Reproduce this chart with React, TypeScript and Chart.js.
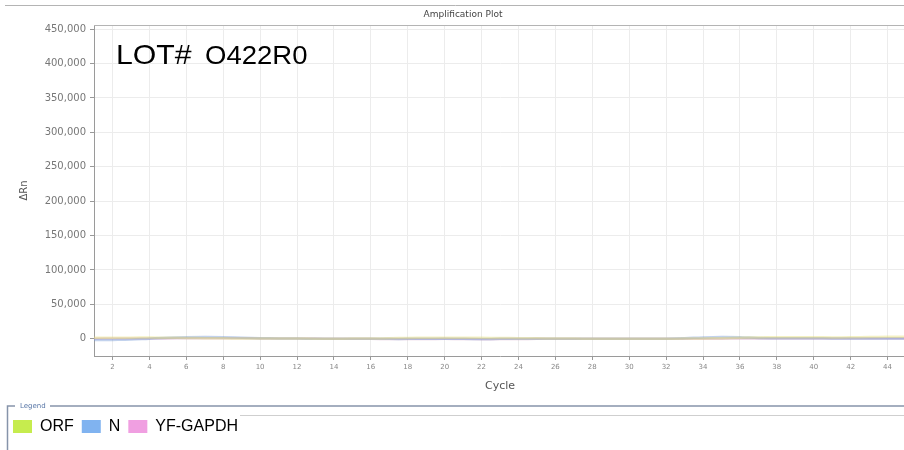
import React, { useEffect, useRef } from "react";
import { Chart, registerables } from "chart.js";

Chart.register(...registerables);

const chartTitle = "Amplification Plot";
const xAxisTitle = "Cycle";
const yAxisTitle = "ΔRn";
const legendTitle = "Legend";
const lotLabel = "LOT#";
const lotNumber = "O422R0";

const cycles = [
  1, 2, 3, 4, 5, 6, 7, 8, 9, 10, 11, 12, 13, 14, 15, 16, 17, 18, 19, 20, 21, 22, 23,
  24, 25, 26, 27, 28, 29, 30, 31, 32, 33, 34, 35, 36, 37, 38, 39, 40, 41, 42, 43, 44, 45,
];

const xTicks = [2, 4, 6, 8, 10, 12, 14, 16, 18, 20, 22, 24, 26, 28, 30, 32, 34, 36, 38, 40, 42, 44];
const yTicks = [0, 50000, 100000, 150000, 200000, 250000, 300000, 350000, 400000, 450000];

const seriesNames = ["ORF", "N", "YF-GAPDH"];

const orfValues = [
  1500, 1600, 1700, 1800, 1500, 1200, 900, 700, 500, 400, 300, 300, 200, 200, 300, 400, 800,
  1200, 1500, 1600, 1500, 1400, 1200, 900, 700, 500, 300, 200, 200, 100, 100, 200, 300, 500,
  900, 1500, 2000, 2300, 2400, 2200, 2000, 2200, 2600, 2900, 3000,
];
const nValues = [
  -1800, -1600, -1200, 200, 1500, 2200, 2500, 2300, 1600, 900, 500, 300, 200, 100, 0, 0, -100,
  -100, 0, 0, -100, -200, -100, 0, 0, -100, 0, 0, 0, 0, 100, 200, 800, 2000, 2600, 2300, 1200,
  900, 800, 700, 600, 500, 500, 400, 400,
];
const gapdhValues = [
  200, 300, 400, 500, 600, 700, 800, 800, 700, 600, 500, 400, 300, 100, 0, -100, -200, -300,
  -200, -100, -300, -500, -400, -200, -100, 0, 0, 0, 0, 0, 0, 100, 100, 100, 200, 400, 500, 500,
  400, 400, 400, 300, 300, 300, 300,
];

const legendColors = ["#c6ec4e", "#80b3f0", "#f09fe1"];
const lineColors = ["rgba(230,225,120,0.45)", "rgba(120,155,215,0.45)", "rgba(205,155,195,0.5)"];

const framePlugin = {
  id: "frame",
  beforeDraw(chart: any) {
    const ctx = chart.ctx;
    ctx.save();
    ctx.fillStyle = "#ffffff";
    ctx.fillRect(0, 0, chart.width, chart.height);
    ctx.restore();
  },
  afterDraw(chart: any) {
    const ctx = chart.ctx;
    const area = chart.chartArea;
    const w = chart.width;
    ctx.save();
    // title band
    ctx.strokeStyle = "#b4b4b4";
    ctx.lineWidth = 1;
    ctx.beginPath();
    ctx.moveTo(5, 5.5);
    ctx.lineTo(w, 5.5);
    ctx.moveTo(area.left, area.top + 0.5);
    ctx.lineTo(w, area.top + 0.5);
    ctx.stroke();
    ctx.fillStyle = "#444";
    ctx.font = "9px 'DejaVu Sans'";
    ctx.textAlign = "center";
    ctx.textBaseline = "middle";
    ctx.fillText(chartTitle, 463, 15);

    // lot annotation
    ctx.fillStyle = "#000";
    ctx.textAlign = "left";
    ctx.textBaseline = "alphabetic";
    ctx.save();
    ctx.translate(116, 64);
    ctx.scale(1.08, 1);
    ctx.font = "28px 'Liberation Sans', Arial, sans-serif";
    ctx.fillText(lotLabel, 0, 0);
    ctx.restore();
    ctx.save();
    ctx.translate(205, 64);
    ctx.scale(1.1, 1);
    ctx.font = "25px 'Liberation Sans', Arial, sans-serif";
    ctx.fillText(lotNumber, 0, 0);
    ctx.restore();

    // legend frame
    ctx.strokeStyle = "#8694aa";
    ctx.lineWidth = 1.5;
    ctx.beginPath();
    ctx.moveTo(7.5, 450);
    ctx.lineTo(7.5, 406);
    ctx.lineTo(15, 406);
    ctx.moveTo(50, 406);
    ctx.lineTo(w, 406);
    ctx.stroke();
    ctx.strokeStyle = "#cfcfcf";
    ctx.lineWidth = 1;
    ctx.beginPath();
    ctx.moveTo(240, 415.5);
    ctx.lineTo(w, 415.5);
    ctx.stroke();
    ctx.fillStyle = "#5a78a8";
    ctx.font = "7px 'DejaVu Sans'";
    ctx.textBaseline = "middle";
    ctx.fillText(legendTitle, 20, 406);
    ctx.restore();
  },
};

export default function App() {
  const ref = useRef<HTMLCanvasElement | null>(null);

  useEffect(() => {
    if (!ref.current) return;
    const series = [orfValues, nValues, gapdhValues];
    const chart = new Chart(ref.current, {
      type: "line",
      data: {
        datasets: series.map((vals, i) => ({
          label: seriesNames[i],
          data: cycles.map((c, j) => ({ x: c, y: vals[j] })),
          borderColor: lineColors[i],
          backgroundColor: legendColors[i],
          borderWidth: 2.5,
          pointRadius: 0,
          tension: 0.4,
          fill: false,
        })),
      },
      options: {
        animation: false,
        responsive: false,
        devicePixelRatio: 1,
        layout: { padding: { left: 5, top: 25, right: 0, bottom: 5.5 } },
        plugins: {
          title: { display: false },
          tooltip: { enabled: false },
          legend: {
            display: true,
            position: "bottom",
            align: "start",
            labels: {
              boxWidth: 19,
              boxHeight: 13,
              padding: 8,
              color: "#222",
              font: { family: "'Liberation Sans', Arial, sans-serif", size: 16 },
              generateLabels: (c: any) =>
                c.data.datasets.map((ds: any, i: number) => ({
                  text: ds.label,
                  fillStyle: legendColors[i],
                  strokeStyle: legendColors[i],
                  lineWidth: 0,
                  hidden: false,
                  datasetIndex: i,
                })),
            },
          },
        },
        scales: {
          x: {
            type: "linear",
            min: 1,
            max: 45,
            afterFit: (s: any) => {
              s.height = 54.5;
            },
            afterBuildTicks: (s: any) => {
              s.ticks = xTicks.map((v) => ({ value: v }));
            },
            ticks: {
              autoSkip: false,
              maxRotation: 0,
              padding: 3,
              color: "#888",
              font: { family: "'DejaVu Sans'", size: 7 },
              callback: (v: any) => String(v),
            },
            grid: { color: "#ececec", tickLength: 4, tickColor: "#999" },
            border: { display: true, color: "#9a9a9a", width: 1 },
            title: {
              display: true,
              text: xAxisTitle,
              color: "#555",
              font: { family: "'DejaVu Sans'", size: 11 },
              padding: { top: 0, bottom: 18 },
            },
          },
          y: {
            type: "linear",
            min: -25000,
            max: 456000,
            afterFit: (s: any) => {
              s.width = 89;
            },
            afterBuildTicks: (s: any) => {
              s.ticks = yTicks.map((v) => ({ value: v }));
            },
            ticks: {
              padding: 4,
              color: "#777",
              font: { family: "'DejaVu Sans'", size: 10 },
              callback: (v: any) => Number(v).toLocaleString("en-US"),
            },
            grid: { color: "#ececec", tickLength: 4, tickColor: "#999" },
            border: { display: true, color: "#9a9a9a", width: 1 },
            title: {
              display: true,
              text: yAxisTitle,
              color: "#555",
              font: { family: "'DejaVu Sans'", size: 10 },
              padding: { top: 13, bottom: 0 },
            },
          },
        },
      },
      plugins: [framePlugin],
    } as any);
    return () => chart.destroy();
  }, []);

  return (
    <div
      style={{
        position: "absolute",
        left: 0,
        top: 0,
        width: 904,
        height: 450,
        overflow: "hidden",
        background: "#fff",
      }}
    >
      <canvas ref={ref} width={906} height={450} style={{ width: 906, height: 450, display: "block" }} />
    </div>
  );
}
